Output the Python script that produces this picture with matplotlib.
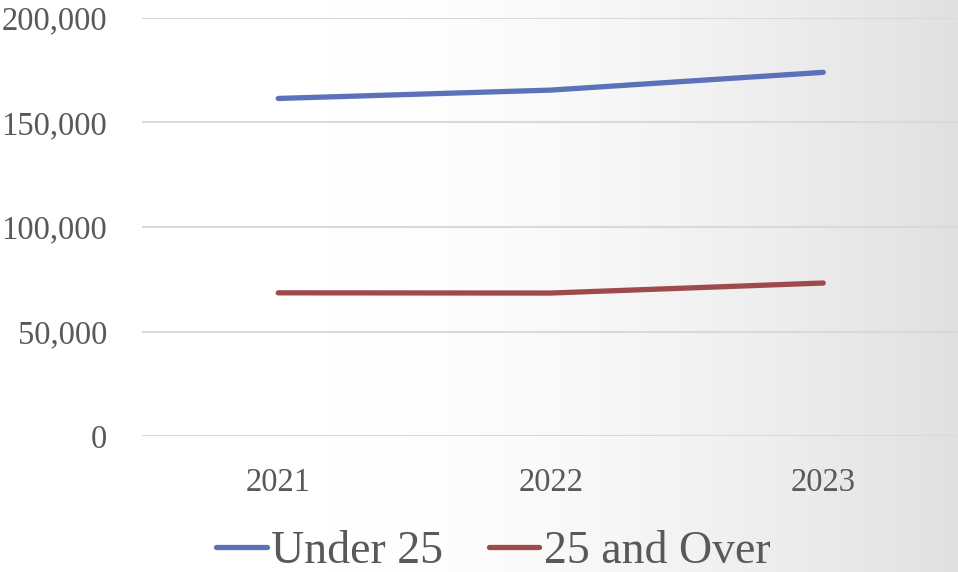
import matplotlib.pyplot as plt
import numpy as np
from matplotlib.ticker import FuncFormatter

# data
years = ['2021', '2022', '2023']
under_25 = [161500, 165500, 174000]
over_25 = [68500, 68400, 73200]

W, H = 958, 572
fig = plt.figure(figsize=(W / 100, H / 100), dpi=100)
plt.rcParams['font.family'] = ['Liberation Serif', 'DejaVu Serif']

# background gradient (white on the left, light gray on the right)
bg = fig.add_axes([0, 0, 1, 1], zorder=-10)
xs = np.linspace(0, 1, 400)
t = np.clip((xs - 0.35) / 0.65, 0, 1)
vals = 1 - 0.12 * t ** 1.6
grad = np.tile(vals, (10, 1))
bg.imshow(np.dstack([grad, grad, grad]), aspect='auto', extent=[0, 1, 0, 1])
bg.axis('off')

ax = fig.add_axes([142 / W, (H - 436) / H, (959.5 - 142) / W, (436 - 18) / H])
ax.set_facecolor('none')

x = np.arange(len(years)) + 0.5
ax.plot(x, under_25, color='#5b72b8', linewidth=3.8, solid_capstyle='round', label='Under 25')
ax.plot(x, over_25, color='#9e4a4c', linewidth=3.8, solid_capstyle='round', label='25 and Over')

ax.set_xlim(0, 3)
ax.set_ylim(0, 200000)
ax.set_xticks(x)
ax.set_xticklabels(years)
ax.set_yticks([0, 50000, 100000, 150000, 200000])
ax.yaxis.set_major_formatter(FuncFormatter(lambda v, p: f'{int(v):,}'))
ax.grid(axis='y', color='#d9d9d9', linewidth=1.5)
ax.set_axisbelow(True)
for s in ax.spines.values():
    s.set_visible(False)
ax.tick_params(axis='both', length=0, labelsize=23.5, colors='#595959')
ax.tick_params(axis='y', pad=25)
ax.tick_params(axis='x', pad=23)

fig.legend(loc='lower center', bbox_to_anchor=(0.515, -0.074), ncol=2, frameon=False,
           fontsize=33, handlelength=1.1, handletextpad=0.1, columnspacing=1.0,
           labelcolor='#595959')

plt.savefig('out.png', dpi=100)
plt.close()
